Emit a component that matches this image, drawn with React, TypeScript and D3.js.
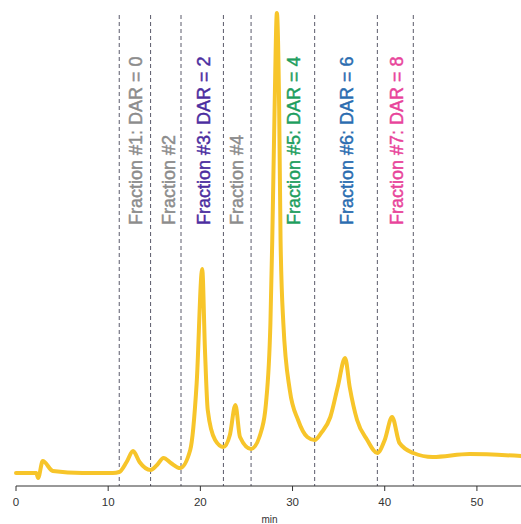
import React from "react";
import * as d3 from "d3";

// Chromatogram trace: retention time (min) and detector response (mAU)
const times = [
  0, 2.2, 2.4, 2.9, 4.0, 7.2, 10.5, 11.2, 12.0, 12.7, 13.4, 14.6, 15.3, 16.0, 16.8, 17.8,
  18.9, 19.6, 20.2, 20.5, 20.8, 21.6, 22.5, 23.2, 23.8, 24.3, 25.5, 26.7, 27.1, 27.6, 27.8,
  28.05, 28.3, 28.55, 28.7, 29.0, 29.7, 30.6, 31.6, 32.4, 33.1, 34.1, 34.9, 35.7, 36.2, 37.0,
  38.1, 39.2, 40.0, 40.8, 41.6, 43.1, 45.2, 49.2, 54.8,
];
const response = [
  7, 7, 2, 19, 9, 7, 7, 8, 18, 29, 18, 10, 15, 22, 17, 12,
  30, 97, 211, 130, 70, 40, 33, 45, 75, 43, 31, 52, 75, 157, 240,
  370, 467, 370, 240, 157, 90, 60, 43, 40, 47, 63, 93, 122, 93, 60,
  40, 27, 40, 63, 37, 27, 23, 26, 24,
];

// Fraction cut points (min)
const cutTimes = [11.2, 14.6, 17.9, 22.5, 25.5, 32.4, 39.2, 43.1];

// Fraction annotations (label baseline position in min)
const fractionLabels = [
  "Fraction #1: DAR = 0",
  "Fraction #2",
  "Fraction #3: DAR = 2",
  "Fraction #4",
  "Fraction #5: DAR = 4",
  "Fraction #6: DAR = 6",
  "Fraction #7: DAR = 8",
];
const fractionLabelTimes = [13.65, 17.2, 21.05, 24.6, 30.8, 36.55, 41.95];
const fractionColors = ["#8c8c8c", "#8c8c8c", "#4b2d9f", "#8c8c8c", "#1e9e5e", "#2a6cb0", "#e8439a"];

const xTicks = [0, 10, 20, 30, 40, 50];

const W = 521;
const H = 524;

export default function App() {
  const x = d3.scaleLinear().domain([0, 55]).range([16, 523]);
  const y = d3.scaleLinear().domain([0, 470]).range([480, 10]);
  const axisY = 486;
  const pts: [number, number][] = times.map((t, i) => [t, response[i]]);
  const line = d3
    .line<[number, number]>()
    .x((d) => x(d[0]))
    .y((d) => y(d[1]))
    .curve(d3.curveMonotoneX);

  return (
    <svg
      width={W}
      height={H}
      style={{ position: "absolute", left: 0, top: 0, display: "block", background: "#fff" }}
      fontFamily="'Liberation Sans', Arial, sans-serif"
    >
      {cutTimes.map((t, i) => (
        <line
          key={"cut" + i}
          x1={x(t)}
          x2={x(t)}
          y1={15}
          y2={axisY}
          stroke="#5a5a6a"
          strokeWidth={1}
          strokeDasharray="4,3"
        />
      ))}
      {fractionLabels.map((s, i) => (
        <text
          key={"lab" + i}
          transform={`translate(${x(fractionLabelTimes[i])},225) rotate(-90)`}
          fontSize={18}
          fill={fractionColors[i]}
          stroke={fractionColors[i]}
          strokeWidth={0.45}
        >
          {s}
        </text>
      ))}
      <path
        d={line(pts) || ""}
        fill="none"
        stroke="#f7c52a"
        strokeWidth={4}
        strokeLinejoin="round"
        strokeLinecap="round"
      />
      <line x1={x(0)} x2={W} y1={axisY} y2={axisY} stroke="#333" strokeWidth={1} />
      {xTicks.map((t) => (
        <g key={"t" + t}>
          <line x1={x(t)} x2={x(t)} y1={axisY} y2={axisY + 5} stroke="#333" />
          <text x={x(t)} y={506} textAnchor="middle" fontSize={11.5} fill="#333">
            {t}
          </text>
        </g>
      ))}
      <text x={x(27.5)} y={523} textAnchor="middle" fontSize={10} fill="#333">
        min
      </text>
    </svg>
  );
}
